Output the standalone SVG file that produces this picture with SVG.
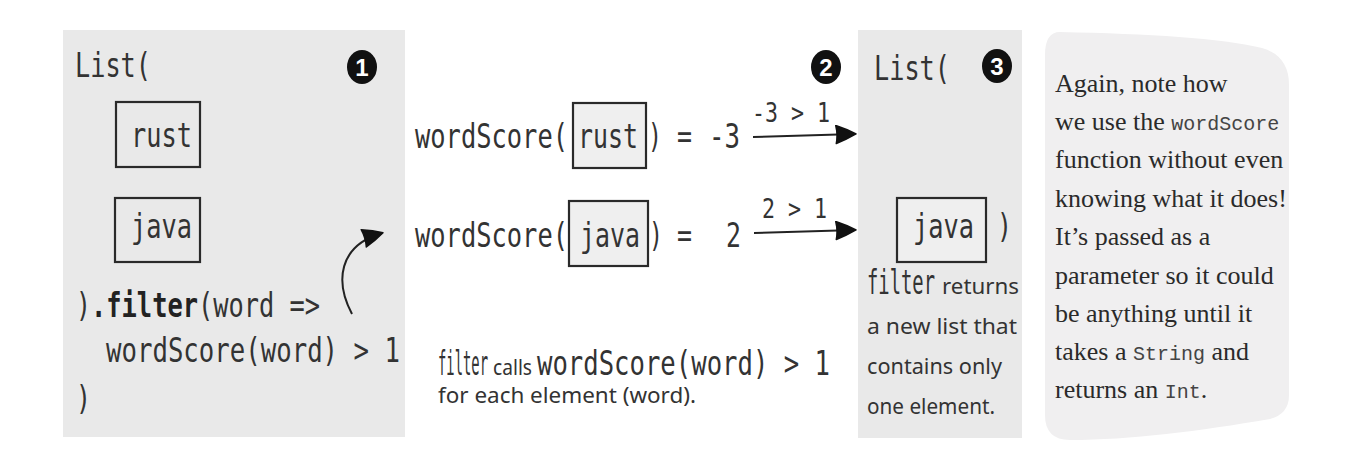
<svg xmlns="http://www.w3.org/2000/svg" width="1347" height="460" viewBox="0 0 1347 460">
<style>
.m{font-family:"DejaVu Sans Mono","Liberation Mono",monospace;font-size:33px;fill:#333}
.mb{font-family:"DejaVu Sans Mono","Liberation Mono",monospace;font-size:33px;font-weight:bold;fill:#222}
.lbl{font-family:"DejaVu Sans Mono","Liberation Mono",monospace;font-size:27px;fill:#333}
.h{font-family:"Noto Sans","DejaVu Sans",sans-serif;font-size:22px;fill:#333}
.s{font-family:"Liberation Serif","Times New Roman",serif;font-size:26px;fill:#2a2a2a}
.sm{font-family:"Liberation Mono",monospace;font-size:20px;fill:#444}
.panel{fill:#e9e9e9}
.box{fill:none;stroke:#2a2a2a;stroke-width:2.2}
.boxw{fill:#efefef;stroke:#2a2a2a;stroke-width:2.2}
.num{fill:#111}
.numt{font-family:"Liberation Sans",Arial,sans-serif;font-size:24px;font-weight:bold;fill:#fff;text-anchor:middle}
.arr{fill:none;stroke:#222;stroke-width:2}
</style>
<defs>
<marker id="ah" viewBox="0 0 22 20" refX="20" refY="10" markerWidth="22" markerHeight="20" orient="auto" markerUnits="userSpaceOnUse">
<path d="M1,1 Q12,5 21,10 Q12,15 1,19 Q3,10 1,1 Z" fill="#111" stroke="#111" stroke-width="1.5" stroke-linejoin="round"/>
</marker>
</defs>
<rect width="1347" height="460" fill="#fff"/>

<g id="panel1">
<rect class="panel" x="63" y="30" width="342" height="407"/>
<text class="m" x="75" y="77" textLength="76" lengthAdjust="spacingAndGlyphs">List(</text>
<ellipse class="num" cx="362" cy="67" rx="15" ry="17"/>
<text class="numt" x="362" y="76">1</text>
<g id="p1-rust">
<rect class="box" x="116" y="102" width="84" height="65"/>
<text class="m" x="131" y="147" textLength="61" lengthAdjust="spacingAndGlyphs">rust</text>
</g>
<g id="p1-java">
<rect class="box" x="115" y="198" width="85" height="64"/>
<text class="m" x="131" y="238" textLength="61" lengthAdjust="spacingAndGlyphs">java</text>
</g>
<text class="m" x="76" y="317" textLength="15" lengthAdjust="spacingAndGlyphs">)</text>
<text class="mb" x="91" y="317" textLength="107" lengthAdjust="spacingAndGlyphs">.filter</text>
<text class="m" x="198" y="317" textLength="122" lengthAdjust="spacingAndGlyphs">(word =&gt;</text>
<text class="m" x="106" y="362" textLength="294" lengthAdjust="spacingAndGlyphs">wordScore(word) &gt; 1</text>
<text class="m" x="76" y="410" textLength="15" lengthAdjust="spacingAndGlyphs">)</text>
</g>

<g id="panel2">
<ellipse class="num" cx="826" cy="67" rx="15" ry="17"/>
<text class="numt" x="826" y="76">2</text>
<g id="row-rust">
<text class="m" x="415" y="148" textLength="153" lengthAdjust="spacingAndGlyphs">wordScore(</text>
<rect class="boxw" x="573" y="103" width="73" height="65"/>
<text class="m" x="578" y="148" textLength="60" lengthAdjust="spacingAndGlyphs">rust</text>
<text class="m" x="648" y="148" textLength="14" lengthAdjust="spacingAndGlyphs">)</text>
<text class="m" x="677" y="148" textLength="15" lengthAdjust="spacingAndGlyphs">=</text>
<text class="m" x="709" y="148" textLength="31" lengthAdjust="spacingAndGlyphs">-3</text>
</g>
<g id="row-java">
<text class="m" x="415" y="247" textLength="153" lengthAdjust="spacingAndGlyphs">wordScore(</text>
<rect class="boxw" x="569" y="201" width="79" height="65"/>
<text class="m" x="580" y="247" textLength="60" lengthAdjust="spacingAndGlyphs">java</text>
<text class="m" x="649" y="247" textLength="14" lengthAdjust="spacingAndGlyphs">)</text>
<text class="m" x="677" y="247" textLength="15" lengthAdjust="spacingAndGlyphs">=</text>
<text class="m" x="726" y="247" textLength="15" lengthAdjust="spacingAndGlyphs">2</text>
</g>
<g id="note2">
<text class="m" x="438" y="375" textLength="50" lengthAdjust="spacingAndGlyphs">filter</text>
<text class="h" x="493" y="375" font-size="17" textLength="39" lengthAdjust="spacingAndGlyphs">calls</text>
<text class="m" x="537" y="375" textLength="293" lengthAdjust="spacingAndGlyphs">wordScore(word) &gt; 1</text>
<text class="h" x="438" y="403" textLength="258" lengthAdjust="spacingAndGlyphs">for each element (word).</text>
</g>
</g>

<g id="panel3">
<rect class="panel" x="858" y="30" width="164" height="408"/>
<text class="m" x="874" y="80" textLength="76" lengthAdjust="spacingAndGlyphs">List(</text>
<ellipse class="num" cx="997" cy="66" rx="15" ry="17"/>
<text class="numt" x="997" y="75">3</text>
<g id="p3-java">
<rect class="boxw" x="897" y="198" width="89" height="64"/>
<text class="m" x="913" y="238" textLength="61" lengthAdjust="spacingAndGlyphs">java</text>
</g>
<text class="m" x="997" y="238" textLength="15" lengthAdjust="spacingAndGlyphs">)</text>
<text class="m" x="867" y="294" textLength="68" lengthAdjust="spacingAndGlyphs">filter</text>
<text class="h" x="942" y="294" textLength="77" lengthAdjust="spacingAndGlyphs">returns</text>
<text class="h" x="867" y="334" textLength="150" lengthAdjust="spacingAndGlyphs">a new list that</text>
<text class="h" x="867" y="374" textLength="135" lengthAdjust="spacingAndGlyphs">contains only</text>
<text class="h" x="867" y="414" textLength="128" lengthAdjust="spacingAndGlyphs">one element.</text>
</g>

<g id="panel4">
<path d="M1060,32 C1150,34 1220,38 1262,48 Q1289,56 1289,85 L1289,395 Q1289,414 1270,419 C1200,431 1130,440 1070,440 Q1045,440 1045,415 L1045,55 Q1045,32 1060,32 Z" fill="#f0eff0"/>
<text class="s" x="1055" y="92">Again, note how</text>
<text class="s" x="1055" y="130">we use the <tspan class="sm">wordScore</tspan></text>
<text class="s" x="1055" y="168">function without even</text>
<text class="s" x="1055" y="207">knowing what it does!</text>
<text class="s" x="1055" y="245">It’s passed as a</text>
<text class="s" x="1055" y="284">parameter so it could</text>
<text class="s" x="1055" y="322">be anything until it</text>
<text class="s" x="1055" y="360">takes a <tspan class="sm">String</tspan> and</text>
<text class="s" x="1055" y="398">returns an <tspan class="sm">Int</tspan>.</text>
</g>

<g id="connectors">
<path class="arr" d="M352,314 C335,282 338,246 382,233" marker-end="url(#ah)"/>
<path class="arr" d="M753,137 L855,134" marker-end="url(#ah)"/>
<text class="lbl" x="752" y="122" textLength="78" lengthAdjust="spacingAndGlyphs">-3 &gt; 1</text>
<path class="arr" d="M754,233 L855,230" marker-end="url(#ah)"/>
<text class="lbl" x="762" y="218" textLength="65" lengthAdjust="spacingAndGlyphs">2 &gt; 1</text>
</g>
</svg>
